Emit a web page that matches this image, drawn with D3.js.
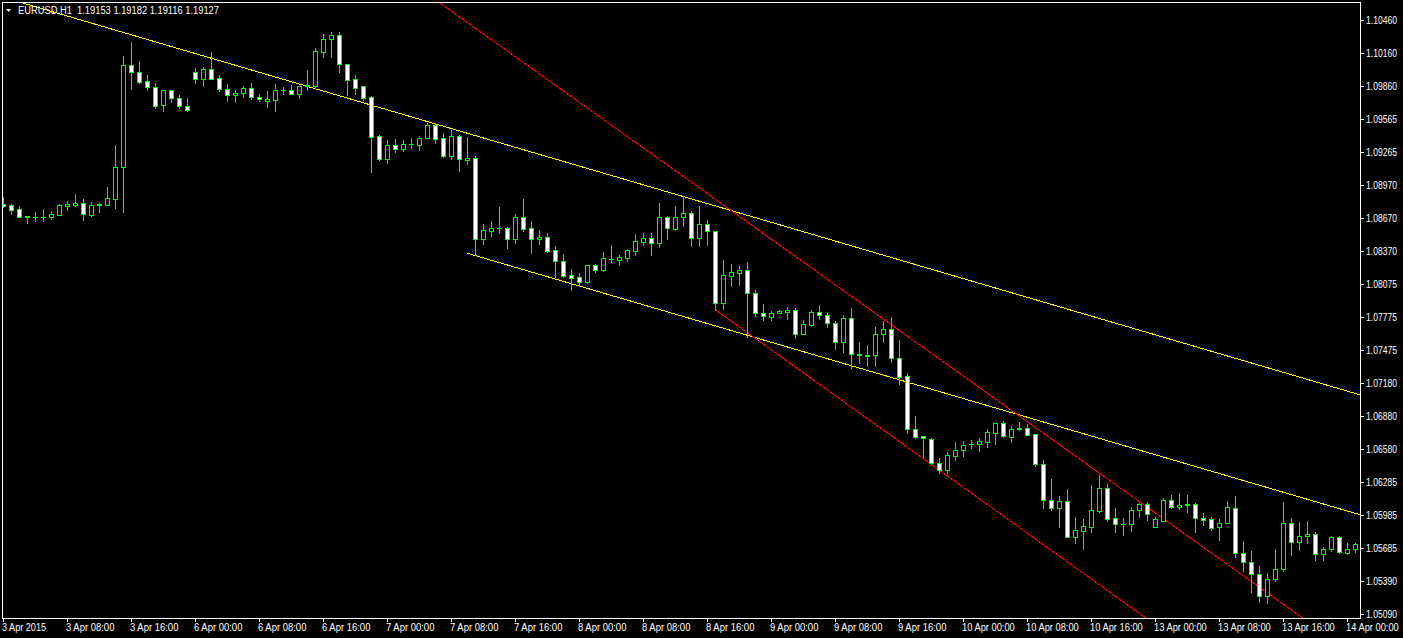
<!DOCTYPE html>
<html>
<head>
<meta charset="utf-8">
<script src="https://cdn.jsdelivr.net/npm/d3@7/dist/d3.min.js"></script>
<style>
  html, body { margin: 0; padding: 0; background: #000; }
  svg { display: block; }
  text { font-family: "Liberation Sans", Arial, sans-serif; fill: #fff; }
</style>
</head>
<body>
<svg id="chart" width="1403" height="638"></svg>
<script>
// ---------------- DATA ----------------
const symbolTitle = "EURUSD,H1  1.19153 1.19182 1.19116 1.19127";

const opens = [
1.08797,1.08788,1.08752,1.08679,1.08679,1.08679,1.08679,1.08697,1.08779,1.08788,
1.08806,1.08697,1.08788,1.08788,1.08842,1.09131,1.10053,1.09990,1.09909,1.09855,
1.09692,1.09827,1.09755,1.09683,1.09990,1.09927,1.10017,1.09936,1.09836,1.09782,
1.09800,1.09845,1.09764,1.09732,1.09737,1.09827,1.09827,1.09791,1.09864,1.09864,
1.10171,1.10288,1.10325,1.10062,1.09927,1.09864,1.09764,1.09412,1.09204,1.09330,
1.09294,1.09339,1.09330,1.09393,1.09511,1.09393,1.09231,1.09412,1.09195,1.09213,
1.08480,1.08553,1.08580,1.08580,1.08480,1.08679,1.08580,1.08480,1.08499,1.08381,
1.08282,1.08155,1.08137,1.08092,1.08245,1.08200,1.08300,1.08291,1.08309,1.08372,
1.08453,1.08489,1.08444,1.08679,1.08571,1.08679,1.08715,1.08489,1.08616,1.08553,
1.07902,1.08146,1.08173,1.08200,1.07992,1.07811,1.07775,1.07811,1.07821,1.07839,
1.07622,1.07703,1.07821,1.07793,1.07721,1.07549,1.07766,1.07432,1.07423,1.07432,
1.07622,1.07667,1.07405,1.07242,1.06763,1.06700,1.06672,1.06455,1.06392,1.06519,
1.06573,1.06627,1.06627,1.06645,1.06727,1.06817,1.06691,1.06758,1.06772,1.06718,
1.06446,1.06121,1.06049,1.06112,1.05787,1.05841,1.05877,1.06022,1.06229,1.05958,
1.05904,1.05904,1.06031,1.06085,1.05877,1.05931,1.06121,1.06058,1.06071,1.06085,
1.05958,1.05949,1.05877,1.05913,1.06049,1.05642,1.05561,1.05452,1.05253,1.05407,
1.05497,1.05913,1.05741,1.05796,1.05814,1.05633,1.05678,1.05787,1.05642,1.05678
];
const highs = [
1.08860,1.08797,1.08779,1.08688,1.08725,1.08752,1.08734,1.08797,1.08824,1.08887,
1.08842,1.08815,1.08806,1.08951,1.09330,1.10135,1.10261,1.10090,1.09963,1.09891,
1.09827,1.09827,1.09782,1.09755,1.10026,1.10035,1.10171,1.09963,1.09882,1.09827,
1.09864,1.09891,1.09791,1.09818,1.09882,1.09855,1.09873,1.09864,1.10008,1.10207,
1.10334,1.10352,1.10352,1.10062,1.09963,1.09864,1.09773,1.09421,1.09375,1.09384,
1.09375,1.09393,1.09412,1.09529,1.09529,1.09439,1.09466,1.09421,1.09403,1.09231,
1.08616,1.08643,1.08770,1.08589,1.08706,1.08842,1.08643,1.08562,1.08535,1.08417,
1.08345,1.08209,1.08173,1.08245,1.08254,1.08363,1.08426,1.08336,1.08390,1.08526,
1.08535,1.08535,1.08806,1.08688,1.08779,1.08869,1.08734,1.08779,1.08652,1.08553,
1.08291,1.08254,1.08236,1.08273,1.08019,1.07893,1.07830,1.07839,1.07866,1.07857,
1.07748,1.07839,1.07884,1.07811,1.07739,1.07793,1.07857,1.07549,1.07522,1.07685,
1.07739,1.07775,1.07567,1.07269,1.06880,1.06700,1.06681,1.06501,1.06555,1.06645,
1.06654,1.06663,1.06681,1.06763,1.06817,1.06835,1.06790,1.06826,1.06808,1.06718,
1.06483,1.06311,1.06157,1.06220,1.05967,1.05949,1.06257,1.06347,1.06266,1.06049,
1.05958,1.06058,1.06094,1.06103,1.05967,1.06139,1.06166,1.06184,1.06166,1.06094,
1.06003,1.05967,1.05949,1.06112,1.06157,1.05750,1.05660,1.05524,1.05461,1.05678,
1.06103,1.05958,1.05922,1.05931,1.05832,1.05696,1.05796,1.05796,1.05732,1.05732
];
const lows = [
1.08770,1.08706,1.08679,1.08625,1.08643,1.08643,1.08661,1.08697,1.08743,1.08779,
1.08652,1.08688,1.08725,1.08788,1.08761,1.08725,1.09836,1.09891,1.09827,1.09665,
1.09638,1.09719,1.09665,1.09638,1.09891,1.09864,1.09927,1.09818,1.09728,1.09719,
1.09764,1.09746,1.09728,1.09674,1.09638,1.09791,1.09791,1.09755,1.09827,1.09845,
1.10126,1.10126,1.09990,1.09782,1.09791,1.09737,1.09086,1.09195,1.09167,1.09267,
1.09276,1.09303,1.09285,1.09393,1.09348,1.09222,1.09204,1.09095,1.09158,1.08336,
1.08435,1.08508,1.08535,1.08399,1.08444,1.08553,1.08354,1.08435,1.08363,1.08137,
1.08137,1.08019,1.08056,1.08083,1.08182,1.08191,1.08273,1.08245,1.08282,1.08336,
1.08426,1.08336,1.08408,1.08480,1.08562,1.08598,1.08417,1.08417,1.08426,1.07839,
1.07848,1.08056,1.08065,1.07595,1.07784,1.07748,1.07748,1.07811,1.07757,1.07585,
1.07622,1.07694,1.07757,1.07685,1.07486,1.07459,1.07314,1.07359,1.07332,1.07332,
1.07549,1.07369,1.07170,1.06727,1.06681,1.06510,1.06446,1.06365,1.06365,1.06483,
1.06519,1.06591,1.06564,1.06600,1.06627,1.06691,1.06645,1.06754,1.06709,1.06428,
1.06049,1.06031,1.05877,1.05787,1.05732,1.05678,1.05832,1.06013,1.05931,1.05832,
1.05805,1.05841,1.05967,1.05940,1.05877,1.05931,1.06049,1.06040,1.06013,1.05832,
1.05895,1.05850,1.05759,1.05913,1.05606,1.05479,1.05289,1.05199,1.05190,1.05389,
1.05479,1.05624,1.05669,1.05732,1.05579,1.05579,1.05660,1.05642,1.05633,1.05651
];
const closes = [
1.08779,1.08743,1.08679,1.08688,1.08679,1.08679,1.08706,1.08788,1.08797,1.08806,
1.08706,1.08788,1.08797,1.08851,1.09131,1.10053,1.09990,1.09900,1.09855,1.09683,
1.09827,1.09755,1.09683,1.09647,1.09927,1.10017,1.09927,1.09836,1.09782,1.09800,
1.09845,1.09764,1.09746,1.09742,1.09827,1.09827,1.09791,1.09864,1.09868,1.10180,
1.10288,1.10325,1.10062,1.09918,1.09845,1.09755,1.09403,1.09204,1.09330,1.09294,
1.09339,1.09339,1.09393,1.09511,1.09384,1.09231,1.09412,1.09204,1.09213,1.08480,
1.08562,1.08580,1.08580,1.08480,1.08679,1.08571,1.08480,1.08499,1.08372,1.08282,
1.08146,1.08128,1.08092,1.08245,1.08200,1.08309,1.08300,1.08318,1.08381,1.08462,
1.08489,1.08444,1.08679,1.08580,1.08679,1.08715,1.08489,1.08616,1.08553,1.07902,
1.08155,1.08182,1.08200,1.07992,1.07811,1.07784,1.07811,1.07830,1.07839,1.07622,
1.07712,1.07821,1.07793,1.07721,1.07549,1.07766,1.07441,1.07441,1.07432,1.07622,
1.07667,1.07405,1.07233,1.06763,1.06691,1.06681,1.06455,1.06392,1.06528,1.06573,
1.06618,1.06627,1.06654,1.06736,1.06817,1.06700,1.06763,1.06772,1.06709,1.06446,
1.06121,1.06049,1.06112,1.05787,1.05850,1.05886,1.06031,1.06229,1.05949,1.05904,
1.05904,1.06031,1.06085,1.05994,1.05949,1.06121,1.06058,1.06076,1.06085,1.05958,
1.05940,1.05868,1.05913,1.06058,1.05642,1.05561,1.05452,1.05253,1.05407,1.05497,
1.05913,1.05741,1.05796,1.05814,1.05633,1.05678,1.05787,1.05651,1.05678,1.05723
];

const priceTickLabels = ["1.10460","1.10160","1.09860","1.09565","1.09265","1.08970","1.08670",
  "1.08370","1.08075","1.07775","1.07475","1.07180","1.06880","1.06580","1.06285","1.05985",
  "1.05685","1.05390","1.05090"];

const timeTickIndex = [0,8,16,24,32,40,48,56,64,72,80,88,96,104,112,120,128,136,144,152,160,168];
const timeTickLabels = ["3 Apr 2015","3 Apr 08:00","3 Apr 16:00","6 Apr 00:00","6 Apr 08:00",
  "6 Apr 16:00","7 Apr 00:00","7 Apr 08:00","7 Apr 16:00","8 Apr 00:00","8 Apr 08:00",
  "8 Apr 16:00","9 Apr 00:00","9 Apr 08:00","9 Apr 16:00","10 Apr 00:00","10 Apr 08:00",
  "10 Apr 16:00","13 Apr 00:00","13 Apr 08:00","13 Apr 16:00","14 Apr 00:00"];

// trend lines: anchor bar index + price
const lineStart  = [20, 58, 55, 89];
const linePrice1 = [1.10241, 1.08351, 1.10591, 1.07839];
const lineEnd    = [140, 140, 130, 140];
const linePrice2 = [1.07698, 1.06614, 1.06724, 1.05198];
const lineRayLeft = [true, false, true, false];
const lineColors = ["#ffff00", "#ffff00", "#ff0000", "#ff0000"];

// ---------------- LAYOUT ----------------
const W = 1403, H = 638;
const plot = { left: 2, top: 2, right: 1360, bottom: 618 };

const svg = d3.select("#chart");
svg.append("rect").attr("width", W).attr("height", H).attr("fill", "#000");

const x = d3.scaleLinear().domain([0, 169]).range([3.5, 3.5 + 8 * 169]);
const y = d3.scaleLinear().domain([1.05090, 1.10460]).range([614, 20]);
const row = p => Math.round(y(p));

svg.append("defs").append("clipPath").attr("id", "clip")
  .append("rect").attr("x", plot.left + 1).attr("y", plot.top + 1)
  .attr("width", plot.right - plot.left - 1).attr("height", plot.bottom - plot.top - 1);

const g = svg.append("g").attr("clip-path", "url(#clip)");

// trend lines
lineStart.forEach((i1, j) => {
  const x1 = x(i1), y1 = y(linePrice1[j]);
  const x2 = x(lineEnd[j]), y2 = y(linePrice2[j]);
  const slope = (y2 - y1) / (x2 - x1);
  const xa = lineRayLeft[j] ? plot.left : x1;
  const xb = plot.right;
  g.append("line")
    .attr("x1", xa).attr("y1", y1 + slope * (xa - x1))
    .attr("x2", xb).attr("y2", y1 + slope * (xb - x1))
    .attr("stroke", lineColors[j]).attr("stroke-width", 1)
    .attr("shape-rendering", "crispEdges");
});

// candles
const bars = d3.range(opens.length);
const cg = g.append("g").attr("shape-rendering", "crispEdges");
bars.forEach(i => {
  const cx = x(i);
  const rh = row(highs[i]), rl = row(lows[i]);
  cg.append("line").attr("x1", cx).attr("x2", cx)
    .attr("y1", rh).attr("y2", rl + 1).attr("stroke", "#00ff00");
  const ro = row(opens[i]), rc = row(closes[i]);
  const rt = Math.min(ro, rc), rb = Math.max(ro, rc);
  if (rb - rt < 1) {
    cg.append("line").attr("x1", cx - 2.5).attr("x2", cx + 2.5)
      .attr("y1", rt + 0.5).attr("y2", rt + 0.5).attr("stroke", "#00ff00");
  } else {
    cg.append("rect").attr("x", cx - 2).attr("y", rt + 0.5)
      .attr("width", 4).attr("height", rb - rt)
      .attr("fill", closes[i] < opens[i] ? "#ffffff" : "#000000")
      .attr("stroke", "#00ff00").attr("stroke-width", 1);
  }
});

// frame
svg.append("rect").attr("x", plot.left + 0.5).attr("y", plot.top + 0.5)
  .attr("width", plot.right - plot.left).attr("height", plot.bottom - plot.top)
  .attr("fill", "none").attr("stroke", "#ffffff").attr("shape-rendering", "crispEdges");

// price axis
priceTickLabels.forEach(t => {
  const yy = Math.round(y(+t)) + 0.5;
  svg.append("line").attr("x1", plot.right).attr("x2", plot.right + 4)
    .attr("y1", yy).attr("y2", yy).attr("stroke", "#fff").attr("shape-rendering", "crispEdges");
  svg.append("text").attr("x", plot.right + 6).attr("y", yy + 3.5)
    .attr("font-size", 10).attr("textLength", 31).attr("lengthAdjust", "spacingAndGlyphs")
    .text(t);
});

// time axis
timeTickIndex.forEach((idx, j) => {
  const xx = x(idx);
  svg.append("line").attr("x1", xx).attr("x2", xx)
    .attr("y1", plot.bottom).attr("y2", plot.bottom + 4)
    .attr("stroke", "#fff").attr("shape-rendering", "crispEdges");
  const lab = timeTickLabels[j];
  svg.append("text").attr("x", xx - 1.5).attr("y", 631)
    .attr("font-size", 10)
    .attr("textLength", lab.length * 4.4).attr("lengthAdjust", "spacingAndGlyphs")
    .text(lab);
});

// title
svg.append("path").attr("d", "M6,9 L11,9 L8.5,12 Z").attr("fill", "#fff");
svg.append("text").attr("x", 18).attr("y", 14).attr("font-size", 10)
  .attr("textLength", 201).attr("lengthAdjust", "spacingAndGlyphs")
  .attr("xml:space", "preserve").style("white-space", "pre")
  .text(symbolTitle);
</script>
</body>
</html>
